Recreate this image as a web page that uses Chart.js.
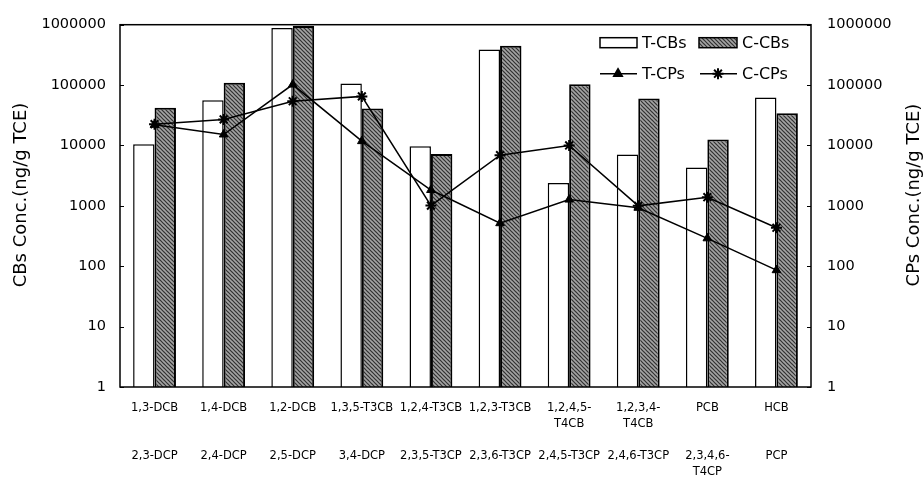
<!DOCTYPE html>
<html>
<head>
<meta charset="utf-8">
<script src="https://cdn.jsdelivr.net/npm/chart.js@4.4.1/dist/chart.umd.min.js"></script>
<style>
  html, body { margin: 0; padding: 0; background: #fff; }
  #wrap { width: 924px; height: 477px; }
</style>
</head>
<body>
<div id="wrap"><canvas id="concChart" width="924" height="477"></canvas></div>
<script>
// Compound names: chlorobenzenes (top row) and chlorophenols (bottom row)
const cbNames = ['1,3-DCB', '1,4-DCB', '1,2-DCB', '1,3,5-T3CB', '1,2,4-T3CB', '1,2,3-T3CB',
  ['1,2,4,5-', 'T4CB'], ['1,2,3,4-', 'T4CB'], 'PCB', 'HCB'];
const cpNames = ['2,3-DCP', '2,4-DCP', '2,5-DCP', '3,4-DCP', '2,3,5-T3CP', '2,3,6-T3CP',
  '2,4,5-T3CP', '2,4,6-T3CP', ['2,3,4,6-', 'T4CP'], 'PCP'];

// Concentrations, ng/g TCE
const tCBs = [10500, 56000, 880000, 106000, 9700, 390000, 2400, 7100, 4300, 62000];
const cCBs = [42000, 109000, 950000, 41000, 7200, 446000, 103000, 60000, 12600, 34000];
const tCPs = [22000, 15200, 102000, 11800, 1830, 516, 1270, 930, 290, 86];
const cCPs = [22500, 27000, 54000, 65000, 1010, 6900, 10000, 1000, 1390, 434];

const yTicks = [1, 10, 100, 1000, 10000, 100000, 1000000];

const FONT = 'DejaVu Sans';

// each x label: CB name (up to 2 lines), gap, then CP name
const labels = cbNames.map((cb, i) => {
  const top = Array.isArray(cb) ? cb.slice() : [cb];
  while (top.length < 3) top.push('');
  const bottom = Array.isArray(cpNames[i]) ? cpNames[i] : [cpNames[i]];
  return top.concat(bottom);
});

const makeHatch = () => {
  const n = 4;
  const c = document.createElement('canvas');
  c.width = n; c.height = n;
  const g = c.getContext('2d');
  g.fillStyle = '#a4a4a4';
  g.fillRect(0, 0, n, n);
  g.strokeStyle = '#303030';
  g.lineWidth = 1.2;
  g.beginPath();
  g.moveTo(0, 0); g.lineTo(n, n);
  g.moveTo(-n, 0); g.lineTo(0, n);
  g.moveTo(n, 0); g.lineTo(2 * n, n);
  g.moveTo(0, -n); g.lineTo(n, 0);
  g.moveTo(0, n); g.lineTo(n, 2 * n);
  g.stroke();
  return g.createPattern(c, 'repeat');
};

const hatch = makeHatch();

const framePlugin = {
  id: 'frameAndLegend',
  afterDraw(chart) {
    const ctx = chart.ctx;
    const area = chart.chartArea;
    ctx.save();

    // plot frame
    ctx.strokeStyle = '#000';
    ctx.lineWidth = 1.5;
    ctx.strokeRect(area.left, area.top, area.right - area.left, area.bottom - area.top);

    // inward tick marks on both value axes
    ctx.lineWidth = 1;
    ctx.beginPath();
    for (const v of yTicks) {
      const y = Math.round(chart.scales.y.getPixelForValue(v)) + 0.5;
      ctx.moveTo(area.left, y); ctx.lineTo(area.left + 4, y);
      const y2 = Math.round(chart.scales.y2.getPixelForValue(v)) + 0.5;
      ctx.moveTo(area.right, y2); ctx.lineTo(area.right - 4, y2);
    }
    ctx.stroke();

    // axis titles
    ctx.fillStyle = '#000';
    ctx.font = `18px "${FONT}"`;
    ctx.textAlign = 'center';
    ctx.textBaseline = 'middle';
    ctx.save();
    ctx.translate(21, 195);
    ctx.rotate(-Math.PI / 2);
    ctx.fillText('CBs Conc.(ng/g TCE)', 0, 0);
    ctx.restore();
    ctx.save();
    ctx.translate(914, 195);
    ctx.rotate(-Math.PI / 2);
    ctx.fillText('CPs Conc.(ng/g TCE)', 0, 0);
    ctx.restore();

    // legend, two rows in the top right of the plot
    const lx = area.right - 211;
    const row1 = area.top + 18;
    const row2 = area.top + 49;
    ctx.font = `16px "${FONT}"`;
    ctx.textAlign = 'left';

    ctx.lineWidth = 1.5;
    ctx.fillStyle = '#fff';
    ctx.fillRect(lx, row1 - 5, 37, 10);
    ctx.strokeRect(lx, row1 - 5, 37, 10);
    ctx.fillStyle = hatch;
    ctx.fillRect(lx + 99, row1 - 5, 38, 10);
    ctx.strokeRect(lx + 99, row1 - 5, 38, 10);

    ctx.lineWidth = 1.5;
    ctx.beginPath();
    ctx.moveTo(lx, row2); ctx.lineTo(lx + 37, row2);
    ctx.moveTo(lx + 100, row2); ctx.lineTo(lx + 137, row2);
    ctx.stroke();
    ctx.fillStyle = '#000';
    Chart.helpers.drawPoint(ctx, { pointStyle: 'triangle', radius: 5, borderWidth: 1 }, lx + 18, row2);
    ctx.lineWidth = 2;
    Chart.helpers.drawPoint(ctx, { pointStyle: 'star', radius: 5.5, borderWidth: 2 }, lx + 118, row2);

    ctx.fillStyle = '#000';
    ctx.fillText('T-CBs', lx + 42, row1 + 1);
    ctx.fillText('C-CBs', lx + 142, row1 + 1);
    ctx.fillText('T-CPs', lx + 42, row2 + 1);
    ctx.fillText('C-CPs', lx + 142, row2 + 1);

    ctx.restore();
  }
};

const logAxis = (position, width, padding) => ({
  type: 'logarithmic',
  position: position,
  min: 1,
  max: 1000000,
  afterBuildTicks: (scale) => { scale.ticks = yTicks.map(v => ({ value: v })); },
  afterFit: (scale) => { scale.width = width; },
  grid: { display: false, drawTicks: false },
  border: { display: false },
  ticks: {
    color: '#000',
    padding: padding,
    font: { family: FONT, size: 14.5 },
    callback: (v) => String(v)
  }
});

new Chart(document.getElementById('concChart'), {
  type: 'bar',
  data: {
    labels: labels,
    datasets: [
      {
        type: 'line', label: 'T-CPs', data: tCPs, yAxisID: 'y2', order: 0,
        borderColor: '#000', borderWidth: 1.5, tension: 0,
        pointStyle: 'triangle', pointRadius: 5,
        pointBackgroundColor: '#000', pointBorderColor: '#000', pointBorderWidth: 1
      },
      {
        type: 'line', label: 'C-CPs', data: cCPs, yAxisID: 'y2', order: 0,
        borderColor: '#000', borderWidth: 1.5, tension: 0,
        pointStyle: 'star', pointRadius: 5.5,
        pointBackgroundColor: '#000', pointBorderColor: '#000', pointBorderWidth: 2
      },
      {
        label: 'T-CBs', data: tCBs, yAxisID: 'y', order: 1,
        backgroundColor: '#fff', borderColor: '#000', borderWidth: 1.5,
        categoryPercentage: 0.62, barPercentage: 1.0
      },
      {
        label: 'C-CBs', data: cCBs, yAxisID: 'y', order: 1,
        backgroundColor: hatch, borderColor: '#000', borderWidth: 2,
        categoryPercentage: 0.62, barPercentage: 1.0
      }
    ]
  },
  options: {
    responsive: false,
    animation: false,
    devicePixelRatio: 1,
    layout: { padding: { top: 19, right: 0, left: 0, bottom: 0 } },
    plugins: {
      legend: { display: false },
      tooltip: { enabled: false }
    },
    scales: {
      x: {
        offset: true,
        afterFit: (scale) => { scale.height = 90; },
        grid: { display: false, drawTicks: false },
        border: { display: false },
        ticks: {
          color: '#000',
          padding: 13,
          maxRotation: 0,
          autoSkip: false,
          font: { family: FONT, size: 11.5, lineHeight: '16px' }
        }
      },
      y: logAxis('left', 120, 14),
      y2: logAxis('right', 113, 16)
    }
  },
  plugins: [framePlugin]
});
</script>
</body>
</html>
